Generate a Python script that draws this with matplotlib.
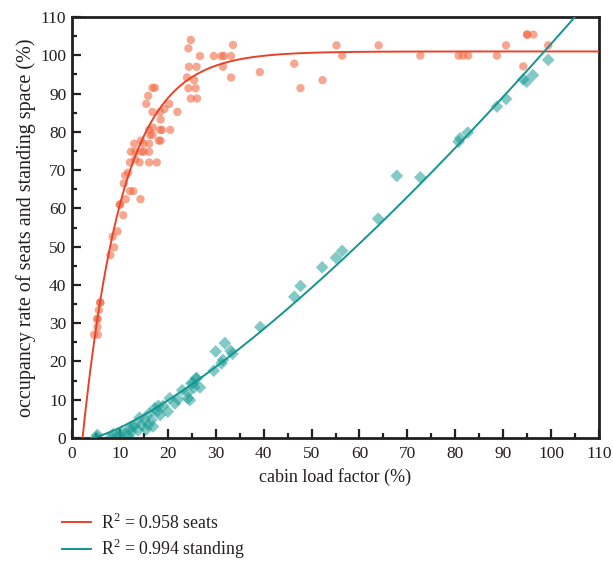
import numpy as np
import matplotlib
matplotlib.use("Agg")
import matplotlib.pyplot as plt
from matplotlib.ticker import MultipleLocator

# ---- data ----
seats_x = [24.8, 24.3, 33.6, 26.7, 29.6, 31.2, 31.7, 33.2, 24.4, 26.0, 31.5, 39.2,
           24.0, 25.5, 33.2, 24.3, 25.8, 24.8, 26.1, 16.8, 17.3, 15.9, 15.5, 20.3,
           16.8, 18.4, 19.3, 22.0, 18.5, 16.1, 16.9, 18.4, 18.8, 20.5, 16.3, 16.8,
           14.4, 18.1, 18.5, 13.0, 14.9, 16.1, 12.3, 13.2, 14.5, 15.0, 16.1, 13.2,
           12.1, 14.1, 16.1, 17.7, 11.7, 11.1, 10.8, 12.1, 12.8, 11.2, 14.3, 10.0,
           10.0, 10.7, 8.5, 9.5, 8.8, 8.0, 5.9, 5.9, 5.6, 5.3, 5.3, 5.3, 4.6, 5.4,
           46.4, 47.7, 52.3, 55.2, 56.4, 64.0, 72.7, 80.7, 81.6, 82.7, 88.7, 90.6,
           95.0, 96.3, 95.0, 94.2, 99.4]
seats_y = [104.0, 101.8, 102.7, 99.8, 99.8, 99.8, 99.8, 99.8, 97.0, 97.0, 97.0, 95.6,
           94.2, 93.5, 94.2, 91.4, 91.4, 88.7, 88.7, 91.5, 91.5, 89.4, 87.3, 87.3,
           85.2, 85.2, 86.0, 85.2, 83.2, 80.5, 81.1, 80.5, 80.5, 80.5, 79.2, 79.2,
           77.7, 77.7, 77.7, 76.9, 76.9, 76.9, 74.8, 74.8, 74.8, 74.8, 74.8, 72.8,
           72.0, 72.0, 72.0, 72.0, 69.3, 68.6, 66.5, 64.5, 64.5, 62.4, 62.4, 61.0,
           61.0, 58.2, 52.6, 54.0, 49.8, 47.8, 35.4, 35.4, 33.4, 31.1, 31.1, 29.0, 27.0, 27.0,
           97.8, 91.4, 93.5, 102.6, 99.9, 102.6, 99.9, 99.9, 99.9, 99.9, 99.9, 102.6,
           105.4, 105.4, 105.4, 97.1, 102.6]

stand_x = [31.9, 30.0, 33.1, 33.5, 31.5, 31.2, 29.6, 25.9, 24.9, 26.7, 25.5, 24.2,
           24.6, 24.2, 20.4, 22.1, 19.0, 18.0, 17.3, 20.0, 18.4, 16.1, 14.1, 15.2,
           16.6, 15.9, 14.5, 16.9, 13.1, 12.0, 12.4, 11.3, 10.3, 10.0, 8.6, 8.2,
           5.3, 5.1, 26.0, 25.3, 15.5, 13.8, 11.8, 9.5, 12.8, 17.8, 23.0, 21.5,
           39.3, 46.4, 47.7, 52.2, 55.1, 56.4, 63.9, 67.8, 72.7, 80.7, 81.0, 82.6,
           88.7, 90.6, 94.2, 94.9, 96.2, 99.4]
stand_y = [24.8, 22.6, 22.8, 22.0, 20.4, 19.5, 17.6, 15.6, 14.3, 13.2, 13.2, 11.9,
           9.9, 10.4, 10.4, 10.1, 8.4, 8.4, 7.8, 6.9, 6.0, 6.4, 5.3, 4.7,
           4.7, 3.4, 3.4, 3.0, 3.4, 2.5, 1.6, 1.2, 1.6, 0.8, 1.0, 0.3,
           0.8, 0.3, 15.6, 14.3, 2.2, 2.0, 0.5, 0.6, 3.0, 7.0, 12.5, 9.0,
           29.0, 36.9, 39.7, 44.6, 47.1, 48.9, 57.3, 68.5, 68.1, 77.4, 78.3, 79.8,
           86.6, 88.6, 93.7, 93.1, 94.8, 98.8]

# fitted trend-line parameters
seats_fit = {"A": 101.0, "x0": 2.2, "tau": 8.42}      # A*(1-exp(-(x-x0)/tau))
stand_fit = {"a": 0.2594, "x0": 4.0, "p": 1.311}      # a*(x-x0)^p

legend_labels = [r"R$^2$ = 0.958 seats", r"R$^2$ = 0.994 standing"]

red_pt = "#F26B45"
red_ln = "#E8432A"
teal_pt = "#1E9E96"
teal_ln = "#13948F"
ink = "#231F20"

plt.rcParams["font.family"] = ["Liberation Serif", "DejaVu Serif"]
plt.rcParams["mathtext.fontset"] = "custom"
plt.rcParams["mathtext.rm"] = "Liberation Serif"

fig = plt.figure(figsize=(6.13, 5.64), dpi=100)
ax = fig.add_axes([72/613, 1-438/564, (599-72)/613, (438-17)/564])

ax.scatter(seats_x, seats_y, s=36, marker="o", color=red_pt, alpha=0.6,
           edgecolors="none", zorder=2)
ax.scatter(stand_x, stand_y, s=42, marker="D", color=teal_pt, alpha=0.55,
           edgecolors="none", zorder=2)

xs = np.linspace(seats_fit["x0"], 110, 400)
ys = seats_fit["A"] * (1 - np.exp(-(xs - seats_fit["x0"]) / seats_fit["tau"]))
l1, = ax.plot(xs, ys, color=red_ln, lw=1.4, zorder=3)

xt = np.linspace(stand_fit["x0"], 110, 400)
yt = stand_fit["a"] * (xt - stand_fit["x0"]) ** stand_fit["p"]
l2, = ax.plot(xt, yt, color=teal_ln, lw=1.4, zorder=3)

ax.set_xlim(0, 110)
ax.set_ylim(0, 110)
ax.xaxis.set_major_locator(MultipleLocator(10))
ax.xaxis.set_minor_locator(MultipleLocator(5))
ax.yaxis.set_major_locator(MultipleLocator(10))
ax.yaxis.set_minor_locator(MultipleLocator(5))
ax.tick_params(which="major", direction="in", length=6.5, width=1.6,
               labelsize=12.5, color=ink, labelcolor=ink)
ax.tick_params(which="minor", direction="in", length=3.5, width=1.6, color=ink)
ax.tick_params(top=False, right=False, which="both")
ax.tick_params(axis="x", pad=6)
ax.tick_params(axis="y", pad=4)
for sp in ax.spines.values():
    sp.set_linewidth(2.0)
    sp.set_color(ink)

ax.set_xlabel("cabin load factor (%)", fontsize=13, color=ink, labelpad=4)
ax.set_ylabel("occupancy rate of seats and standing space (%)", fontsize=14.5,
              color=ink, labelpad=3)

fig.legend([l1, l2], legend_labels, loc="upper left",
           bbox_to_anchor=(58/613, 1-509/564), frameon=False, fontsize=12.8,
           handlelength=1.65, handletextpad=0.55, labelspacing=0.25,
           borderaxespad=0.0, borderpad=0.2, labelcolor=ink)

fig.savefig("out.png", dpi=100)
